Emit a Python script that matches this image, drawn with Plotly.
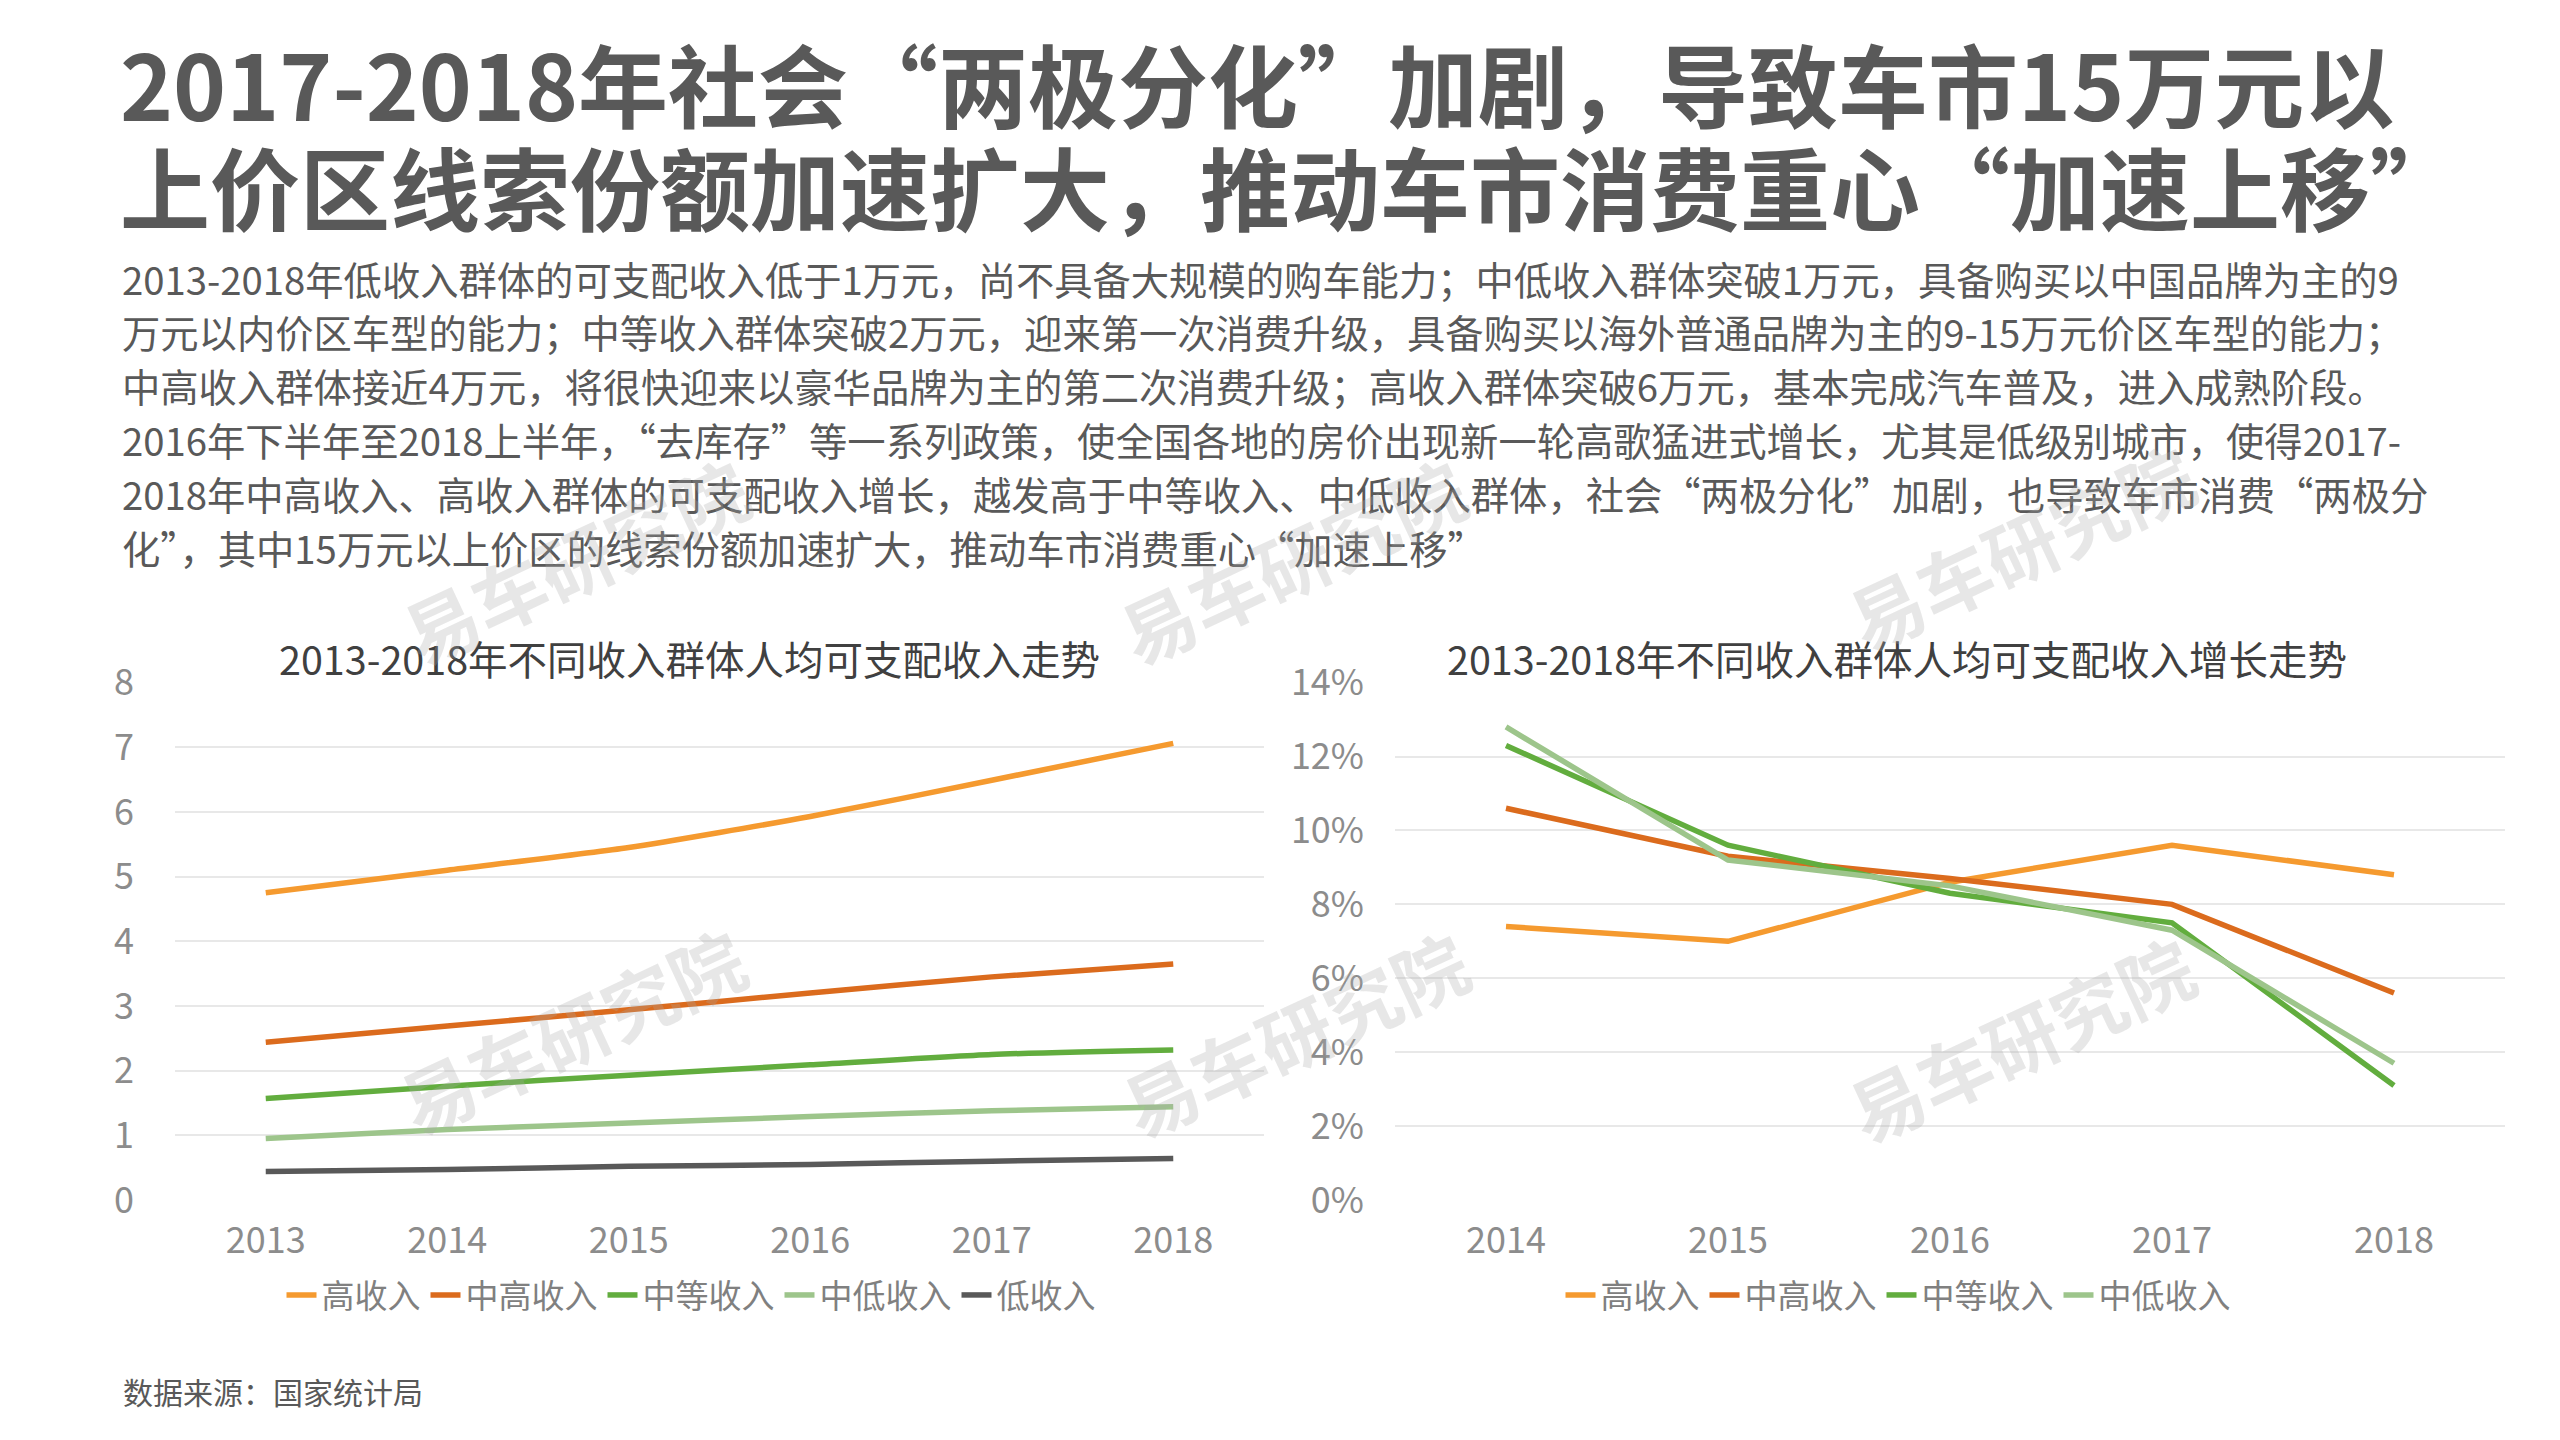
import plotly.graph_objects as go

# ---------------- data ----------------
years_level = ["2013", "2014", "2015", "2016", "2017", "2018"]
years_growth = ["2014", "2015", "2016", "2017", "2018"]

series_names = ["高收入", "中高收入", "中等收入", "中低收入", "低收入"]

income_high = [4.75, 5.10, 5.45, 5.93, 6.49, 7.06]
income_upper_mid = [2.44, 2.69, 2.94, 3.20, 3.45, 3.65]
income_mid = [1.57, 1.76, 1.93, 2.09, 2.25, 2.32]
income_lower_mid = [0.95, 1.09, 1.19, 1.29, 1.38, 1.44]
income_low = [0.44, 0.47, 0.52, 0.55, 0.60, 0.64]

growth_high = [7.4, 7.0, 8.6, 9.6, 8.8]
growth_upper_mid = [10.6, 9.3, 8.7, 8.0, 5.6]
growth_mid = [12.3, 9.6, 8.3, 7.5, 3.1]
growth_lower_mid = [12.8, 9.2, 8.5, 7.3, 3.7]

title_lines = [
    "2017-2018年社会“两极分化”加剧，导致车市15万元以",
    "上价区线索份额加速扩大，推动车市消费重心“加速上移”",
]
body_lines = [
    "2013-2018年低收入群体的可支配收入低于1万元，尚不具备大规模的购车能力；中低收入群体突破1万元，具备购买以中国品牌为主的9",
    "万元以内价区车型的能力；中等收入群体突破2万元，迎来第一次消费升级，具备购买以海外普通品牌为主的9-15万元价区车型的能力；",
    "中高收入群体接近4万元，将很快迎来以豪华品牌为主的第二次消费升级；高收入群体突破6万元，基本完成汽车普及，进入成熟阶段。",
    "2016年下半年至2018上半年，“去库存”等一系列政策，使全国各地的房价出现新一轮高歌猛进式增长，尤其是低级别城市，使得2017-",
    "2018年中高收入、高收入群体的可支配收入增长，越发高于中等收入、中低收入群体，社会“两极分化”加剧，也导致车市消费“两极分",
    "化”，其中15万元以上价区的线索份额加速扩大，推动车市消费重心“加速上移”",
]
left_title = "2013-2018年不同收入群体人均可支配收入走势"
right_title = "2013-2018年不同收入群体人均可支配收入增长走势"
source_text = "数据来源：国家统计局"
watermark = "易车研究院"

# ---------------- style ----------------
W, H = 2560, 1440
FONT = "Noto Sans CJK SC"
colors = ["#F59A2F", "#DB6B1D", "#62AD3E", "#9DC58B", "#595959"]


def px(x):
    return x / W


def py(y):
    return 1 - y / H


fig = go.Figure()

level_series = [income_high, income_upper_mid, income_mid, income_lower_mid, income_low]
for name, vals, c in zip(series_names, level_series, colors):
    fig.add_trace(go.Scatter(
        x=years_level, y=vals, name=name, mode="lines",
        line=dict(color=c, width=5.5, shape="spline", smoothing=0.6),
        xaxis="x", yaxis="y", legend="legend", hoverinfo="skip",
    ))

growth_series = [growth_high, growth_upper_mid, growth_mid, growth_lower_mid]
for name, vals, c in zip(series_names[:4], growth_series, colors[:4]):
    fig.add_trace(go.Scatter(
        x=years_growth, y=vals, name=name, mode="lines",
        line=dict(color=c, width=5.5),
        xaxis="x2", yaxis="y2", legend="legend2", hoverinfo="skip",
    ))

tick_font = dict(family=FONT, size=36, color="#8C8C8C")
grid = "#E8E8E8"
leg_font = dict(family=FONT, size=33, color="#808080")

fig.update_layout(
    width=W, height=H,
    margin=dict(l=0, r=0, t=0, b=0, autoexpand=False),
    paper_bgcolor="white", plot_bgcolor="white",
    font=dict(family=FONT),
    xaxis=dict(domain=[px(175), px(1264)], anchor="y", type="category",
               range=[-0.5, 5.5], showgrid=False, showline=False, ticks="",
               tickfont=tick_font, ticklabelstandoff=16, fixedrange=True,
               automargin=False),
    yaxis=dict(domain=[py(1200), py(682.6)], anchor="x", range=[0, 8], dtick=1,
               showgrid=True, gridcolor=grid, gridwidth=1.5, zeroline=False,
               showline=False, ticks="", tickfont=tick_font,
               ticklabelstandoff=40, fixedrange=True, automargin=False),
    xaxis2=dict(domain=[px(1395), px(2505)], anchor="y2", type="category",
                range=[-0.5, 4.5], showgrid=False, showline=False, ticks="",
                tickfont=tick_font, ticklabelstandoff=16, fixedrange=True,
                automargin=False),
    yaxis2=dict(domain=[py(1200), py(682.6)], anchor="x2", range=[0, 14], dtick=2,
                ticksuffix="%", showgrid=True, gridcolor=grid, gridwidth=1.5,
                zeroline=False, showline=False, ticks="", tickfont=tick_font,
                ticklabelstandoff=30, fixedrange=True, automargin=False),
    legend=dict(orientation="h", x=px(691), xanchor="center", y=py(1295),
                yanchor="middle", font=leg_font,
                itemwidth=30, tracegroupgap=0, bgcolor="rgba(0,0,0,0)"),
    legend2=dict(orientation="h", x=px(1898), xanchor="center", y=py(1295),
                 yanchor="middle", font=leg_font,
                 itemwidth=30, tracegroupgap=0, bgcolor="rgba(0,0,0,0)"),
)

ann = []
# main title
for line, yc in zip(title_lines, [82, 185]):
    ann.append(dict(text="<b>" + line + "</b>", x=px(118), y=py(yc), xref="paper", yref="paper",
                    xanchor="left", yanchor="middle", showarrow=False,
                    font=dict(family=FONT, size=90, color="#595959")))
# body
for line, yc in zip(body_lines, [278, 331.5, 385.4, 439.3, 493, 547]):
    ann.append(dict(text=line, x=px(120), y=py(yc), xref="paper", yref="paper",
                    xanchor="left", yanchor="middle", showarrow=False,
                    font=dict(family=FONT, size=38.3, color="#595959")))
# chart titles
ann.append(dict(text=left_title, x=px(689), y=py(658), xref="paper", yref="paper",
                xanchor="center", yanchor="middle", showarrow=False,
                font=dict(family=FONT, size=39.5, color="#404040")))
ann.append(dict(text=right_title, x=px(1897), y=py(658), xref="paper", yref="paper",
                xanchor="center", yanchor="middle", showarrow=False,
                font=dict(family=FONT, size=39.5, color="#404040")))
# source
ann.append(dict(text=source_text, x=px(121), y=py(1391), xref="paper", yref="paper",
                xanchor="left", yanchor="middle", showarrow=False,
                font=dict(family=FONT, size=30, color="#595959")))
# watermarks
for (cx, cy) in [(575, 560), (1292, 560), (2020, 545), (571, 1029), (1294, 1032), (2020, 1037)]:
    ann.append(dict(text="<b>" + watermark + "</b>", x=px(cx), y=py(cy), xref="paper", yref="paper",
                    xanchor="center", yanchor="middle", showarrow=False, textangle=-25,
                    font=dict(family=FONT, size=74, color="rgba(170,170,170,0.28)")))

fig.update_layout(annotations=ann)

fig.write_html("out.html", config={"displayModeBar": False})
